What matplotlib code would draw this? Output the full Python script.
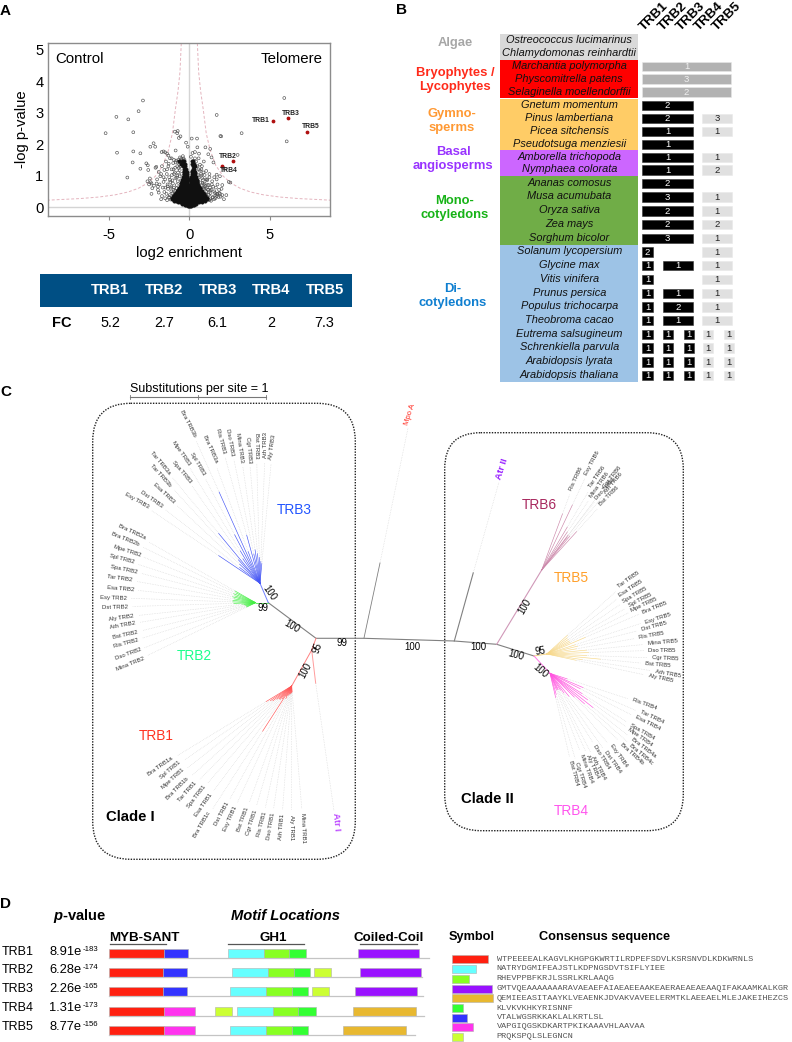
import numpy as np
import matplotlib
matplotlib.use("Agg")
import matplotlib.pyplot as plt
from matplotlib.patches import Rectangle, FancyBboxPatch

plt.rcParams['font.family'] = ['Liberation Sans', 'DejaVu Sans']
plt.rcParams['mathtext.fontset'] = 'custom'
plt.rcParams['mathtext.bfit'] = 'Liberation Sans:italic:bold'

# ---------------- Panel A data ----------------
HIT_NAMES = ['TRB1', 'TRB2', 'TRB3', 'TRB4', 'TRB5']
HIT_X = [5.2, 2.7, 6.1, 2.0, 7.3]
HIT_Y = [2.73, 1.45, 2.82, 1.32, 2.38]
FC_VALUES = ['5.2', '2.7', '6.1', '2', '7.3']
CURVE_X = [0.50, 0.58, 0.70, 0.87, 1.05, 1.29, 1.65, 2.11, 2.6, 3.15, 3.8, 4.6, 5.6, 6.8, 8.0, 8.74]
CURVE_Y = [5.21, 4.3, 3.7, 3.09, 2.35, 1.82, 1.32, 0.98, 0.76, 0.60, 0.48, 0.39, 0.32, 0.27, 0.24, 0.22]
OUT_X = [-5.2, -4.49, -4.53, -3.79, -3.85, -3.15, -2.88, -3.48, -3.48, -3.04, -3.52, -3.04, -2.67, -2.58, -2.42,
         -2.45, -2.22, -2.35, -2.12, -2.03, -2.4, -1.95, -1.6, -1.72, -1.5, -1.38, -1.3, -1.9, -1.75, -2.6, -2.35, -2.3,
         -2.05, -2.55, -1.1, -0.95, -0.85, -0.75, -0.65, -0.9, -0.72, -0.55, 0.15, 0.48, 0.5, -0.2, 0.35, 0.58,
         5.9, 6.05, 1.7, 1.93, 1.98, 3.25, 1.0, 1.3, 1.38, 1.18, 1.5, 1.7, 1.9, 2.1, 2.2, 2.45, 2.55, 2.05, 3.0, 1.75, 1.85, 1.6,
         0.9, 0.75, 0.6, 0.2, 0.35, 0.1, -0.1, 0.78, 1.05, 1.55, 1.42, 1.2, 1.65, 1.9, 1.3, 1.75, 2.3, 0.95, 1.1, 1.25, 2.0, 1.7, 1.45]
OUT_Y = [2.35, 1.73, 2.87, 2.79, 0.94, 3.05, 3.39, 2.38, 1.77, 1.71, 1.42, 1.22, 1.39, 1.33, 1.92,
         0.91, 2.03, 0.42, 1.92, 0.75, 0.79, 0.65, 1.77, 1.75, 1.74, 1.7, 1.64, 0.46, 0.25, 0.82, 0.75, 0.6,
         1.28, 1.18, 1.55, 1.5, 1.8, 2.35, 2.2, 2.4, 2.42, 2.25, 2.18, 2.18, 1.9, 2.05, 1.75, 1.55,
         3.47, 2.09, 2.93, 2.26, 2.25, 2.35, 1.9, 1.85, 1.58, 1.68, 1.42, 1.03, 0.98, 1.25, 1.22, 0.8, 0.78, 0.7, 1.66, 0.72, 0.55, 0.45,
         1.45, 1.2, 1.7, 1.72, 1.55, 1.6, 1.92, 1.3, 1.15, 0.95, 0.82, 0.7, 0.62, 0.43, 0.52, 0.42, 0.38, 1.02, 0.88, 1.05, 0.58, 0.88, 0.32]
MID_X = [-2.5, -2.2, -2.0, -1.9, -1.8, -1.7, -1.65, -1.55, -1.5, -1.45, -1.4, -1.35, -1.3, -1.25, -1.2, -1.15, -1.1, -1.05, -1.0, -0.95,
         -2.1, -1.95, -1.85, -1.75, -1.6, -1.48, -1.38, -1.28, -1.18, -1.08, -0.98, -0.88, -0.82, -0.78, -0.7, -0.62, -0.58, -0.52, -0.45, -0.4,
         -1.7, -1.55, -1.42, -1.32, -1.22, -1.12, -1.02, -0.92, -0.86, -0.8, -0.74, -0.68, -0.6, -0.55, -0.5, -0.42, -0.36, -0.3, -1.6, -1.25,
         0.42, 0.5, 0.58, 0.66, 0.72, 0.8, 0.88, 0.95, 1.02, 1.1, 1.18, 1.25, 1.32, 1.4, 1.48, 1.55, 1.62, 1.72, 1.82, 2.05,
         0.45, 0.55, 0.62, 0.7, 0.78, 0.85, 0.92, 1.0, 1.08, 1.15, 1.22, 1.3, 1.38, 1.45, 1.55, 1.62, 1.72, 1.85, 1.95, 2.15,
         -1.5, -1.38, -1.26, -1.16, -1.05, -0.95, -0.88, -0.78, -0.72, -0.66, -0.6, -0.54, -0.48, -0.85, -0.75, -0.68, -0.58, -0.5, -0.44, -1.12, -0.98, -0.9, -0.7, -1.35, -1.2,
         0.62, 0.7, 0.76, 0.84, 0.9, 0.98, 1.06, 1.14, 0.52, 0.58, 0.66, 0.74, 0.82, 0.92, 1.02, 1.12, 1.25, 1.35, 1.18, 1.28]
MID_Y = [0.72, 0.68, 0.88, 1.12, 0.98, 1.3, 0.62, 1.18, 0.88, 1.45, 1.05, 0.72, 1.3, 0.95, 1.55, 0.62, 1.2, 0.85, 1.4, 1.05,
         1.25, 0.55, 0.72, 1.05, 0.95, 0.62, 1.2, 1.38, 0.8, 1.02, 0.55, 1.25, 1.48, 0.7, 1.1, 1.35, 1.58, 0.85, 1.5, 1.62,
         0.35, 0.48, 0.42, 0.58, 0.38, 0.5, 0.75, 0.42, 0.92, 0.6, 1.0, 0.5, 1.18, 0.72, 1.38, 1.42, 1.55, 1.5, 0.8, 0.32,
         1.45, 1.3, 1.2, 1.35, 1.05, 0.92, 1.1, 0.75, 0.6, 0.85, 0.55, 0.95, 0.45, 0.72, 0.65, 0.5, 0.38, 0.42, 0.32, 0.38,
         0.6, 0.82, 0.45, 0.35, 0.5, 0.3, 0.62, 0.42, 0.32, 0.55, 0.38, 0.25, 0.55, 0.3, 0.25, 0.28, 0.35, 0.45, 0.33, 0.25,
         0.28, 0.22, 0.3, 0.24, 0.44, 0.62, 0.52, 0.94, 0.82, 1.24, 0.98, 1.3, 1.06, 1.42, 1.3, 1.5, 1.44, 1.55, 1.32, 0.66, 1.2, 1.1, 1.44, 0.66, 0.86,
         0.68, 0.78, 0.62, 0.86, 0.72, 0.66, 0.48, 0.7, 1.02, 0.94, 1.16, 1.0, 0.76, 0.58, 0.88, 0.28, 0.22, 0.2, 0.4, 0.62]
DENSE_ROWS = {
    0.02: [-0.08, -0.02, 0.04, 0.09],
    0.06: [-0.26, -0.18, -0.1, -0.03, 0.05, 0.12, 0.2, 0.28],
    0.10: [-0.44, -0.34, -0.26, -0.17, -0.08, 0.02, 0.1, 0.2, 0.3, 0.42],
    0.15: [-0.72, -0.6, -0.46, -0.36, -0.27, -0.18, -0.07, 0.04, 0.15, 0.26, 0.37, 0.48, 0.62, 0.76],
    0.20: [-0.95, -0.8, -0.65, -0.5, -0.4, -0.27, -0.15, -0.04, 0.07, 0.2, 0.33, 0.46, 0.6, 0.78, 0.98],
    0.25: [-1.1, -0.95, -0.8, -0.65, -0.52, -0.38, -0.24, -0.1, 0.04, 0.18, 0.32, 0.46, 0.6, 0.78, 0.95, 1.1],
    0.30: [-1.1, -0.92, -0.74, -0.58, -0.44, -0.3, -0.16, -0.03, 0.12, 0.26, 0.4, 0.55, 0.72, 0.9, 1.1],
    0.35: [-1.02, -0.84, -0.68, -0.52, -0.38, -0.24, -0.1, 0.06, 0.2, 0.34, 0.48, 0.64, 0.82, 1.0],
    0.40: [-0.92, -0.74, -0.58, -0.42, -0.28, -0.14, 0.01, 0.15, 0.3, 0.44, 0.6, 0.76, 0.94],
    0.45: [-0.82, -0.64, -0.47, -0.33, -0.19, -0.05, 0.1, 0.24, 0.38, 0.54, 0.7, 0.86],
    0.50: [-0.74, -0.58, -0.44, -0.3, -0.16, -0.02, 0.13, 0.28, 0.44, 0.6, 0.78],
    0.55: [-0.68, -0.52, -0.38, -0.24, -0.1, 0.06, 0.22, 0.36, 0.5, 0.68],
    0.60: [-0.62, -0.48, -0.34, -0.2, -0.07, 0.07, 0.2, 0.34, 0.48, 0.64],
    0.65: [-0.58, -0.44, -0.3, -0.18, -0.06, 0.07, 0.2, 0.34, 0.48, 0.6],
    0.70: [-0.54, -0.4, -0.28, -0.16, -0.06, 0.07, 0.2, 0.34, 0.46, 0.56],
    0.75: [-0.5, -0.38, -0.26, -0.13, 0.1, 0.24, 0.38, 0.5],
    0.80: [-0.46, -0.34, -0.22, -0.12, 0.11, 0.25, 0.39, 0.48],
    0.85: [-0.44, -0.32, -0.2, -0.11, 0.11, 0.24, 0.36, 0.46],
    0.90: [-0.42, -0.3, -0.18, -0.11, 0.12, 0.26, 0.38, 0.44],
    0.95: [-0.4, -0.28, -0.17, 0.13, 0.27, 0.4],
    1.00: [-0.36, -0.26, -0.16, 0.14, 0.28, 0.38],
    1.05: [-0.36, -0.27, -0.17, 0.14, 0.26, 0.36],
    1.10: [-0.34, -0.25, -0.16, 0.16, 0.28, 0.36],
    1.16: [-0.32, -0.22, 0.18, 0.3],
    1.22: [-0.3, -0.2, 0.2, 0.3],
    1.30: [-0.38, -0.24, 0.24, 0.36],
    1.38: [-0.5, -0.36, -0.25, 0.18, 0.3],
    1.46: [-0.64, -0.46, -0.3, 0.15, 0.26],
}

# ---------------- Panel B data ----------------
GROUPS = ['Algae', 'Bryophytes /\nLycophytes', 'Gymno-\nsperms', 'Basal\nangiosperms', 'Mono-\ncotyledons', 'Di-\ncotyledons']
GROUP_COUNTS = [2, 3, 4, 2, 5, 10]
SPECIES = ['Ostreococcus lucimarinus', 'Chlamydomonas reinhardtii', 'Marchantia polymorpha', 'Physcomitrella patens',
           'Selaginella moellendorffii', 'Gnetum momentum', 'Pinus lambertiana', 'Picea sitchensis', 'Pseudotsuga menziesii',
           'Amborella trichopoda', 'Nymphaea colorata', 'Ananas comosus', 'Musa acumubata', 'Oryza sativa', 'Zea mays',
           'Sorghum bicolor', 'Solanum lycopersium', 'Glycine max', 'Vitis vinifera', 'Prunus persica', 'Populus trichocarpa',
           'Theobroma cacao', 'Eutrema salsugineum', 'Schrenkiella parvula', 'Arabidopsis lyrata', 'Arabidopsis thaliana']
COUNT_ALL = [None, None, 1, 3, 2] + [None] * 21
COUNT_TRB123 = [None] * 5 + [2, 2, 1, 1, 1, 1, 2, 3, 2, 2, 3] + [None] * 10
COUNT_TRB45 = [None] * 6 + [3, 1, None, 1, 2, None, 1, 1, 2, 1] + [None] * 10
COUNT_TRB1 = [None] * 16 + [2, 1, 1, 1, 1, 1, 1, 1, 1, 1]
COUNT_TRB23 = [None] * 17 + [1, None, 1, 2, 1, None, None, None, None]
COUNT_TRB45B = [None] * 16 + [1, 1, 1, 1, 1, 1, None, None, None, None]
COUNT_SINGLE = {'TRB2': [1, 1, 1, 1], 'TRB3': [1, 1, 1, 1], 'TRB4': [1, 1, 1, 1], 'TRB5': [1, 1, 1, 1]}

# ---------------- Panel C data ----------------
TRB3_NAMES = ['Bra TRB3b', 'Bra TRB3a', 'Ris TRB3', 'Dso TRB3', 'Mina TRB3', 'Cgr TRB3', 'Bst TRB3', 'Ath TRB3', 'Aly TRB3',
              'Spl TRB3', 'Mpe TRB3', 'Spa TRB3', 'Tar TRB3a', 'Tar TRB3b', 'Esa TRB3', 'Dst TRB3', 'Esy TRB3']
TRB3_LEN = [100, 34, 50, 30, 34, 30, 26, 22, 20, 55, 38, 30, 65, 32, 28, 26, 50]
TRB2_NAMES = ['Bra TRB2a', 'Bra TRB2b', 'Mpe TRB2', 'Spl TRB2', 'Spa TRB2', 'Tar TRB2', 'Esa TRB2', 'Esy TRB2', 'Dst TRB2',
              'Aly TRB2', 'Ath TRB2', 'Bst TRB2', 'Ris TRB2', 'Dso TRB2', 'Mina TRB2']
TRB2_LEN = [24, 22, 24, 22, 24, 22, 23, 23, 22, 14, 12, 11, 10, 10, 10]
TRB1_NAMES = ['Bra TRB1a', 'Spl TRB1', 'Mpe TRB1', 'Bra TRB1b', 'Tar TRB1', 'Spa TRB1', 'Esa TRB1', 'Bra TRB1c', 'Dst TRB1',
              'Esy TRB1', 'Bst TRB1', 'Cgr TRB1', 'Ris TRB1', 'Dso TRB1', 'Ath TRB1', 'Aly TRB1', 'Mina TRB1']
TRB1_LEN = [30, 26, 24, 20, 18, 18, 16, 54, 12, 14, 10, 9, 8, 8, 7, 7, 6]
TRB6_NAMES = ['Ris TRB6', 'Esy TRB6', 'Tar TRB6', 'Mina TRB6', 'Cgr TRB6', 'Ath TRB6', 'Dso TRB6', 'Bst TRB6']
TRB6_LEN = [60, 72, 50, 46, 44, 44, 42, 52]
TRB5_NAMES = ['Tar TRB5', 'Esa TRB5', 'Spa TRB5', 'Spl TRB5', 'Mpe TRB5', 'Bra TRB5', 'Esy TRB5', 'Dst TRB5', 'Ris TRB5',
              'Mina TRB5', 'Dso TRB5', 'Cgr TRB5', 'Bst TRB5', 'Ath TRB5', 'Aly TRB5']
TRB5_LEN = [28, 26, 26, 26, 26, 42, 30, 32, 30, 40, 42, 40, 54, 36, 30]
TRB4_NAMES = ['Ris TRB4', 'Tar TRB4', 'Esa TRB4', 'Spa TRB4', 'Mpe TRB4', 'Bra TRB4a', 'Bra TRB4c', 'Bra TRB4b', 'Esy TRB4',
              'Dst TRB4', 'Dso TRB4', 'Ath TRB4', 'Aly TRB4', 'Mina TRB4', 'Cgr TRB4', 'Bst TRB4']
TRB4_LEN = [18, 36, 34, 38, 46, 55, 46, 34, 30, 24, 20, 18, 18, 18, 22, 25]
BOOTSTRAP = ['100', '99', '100', '95', '100', '99', '100', '100', '100', '95', '100', '100']

# ---------------- Panel D data ----------------
PVAL_BASE = ['8.91e', '6.28e', '2.26e', '1.31e', '8.77e']
PVAL_EXP = ['-183', '-174', '-165', '-173', '-156']
MOTIF_ORDER = ['red', 'cyan', 'lime', 'purple', 'gold', 'green', 'blue', 'magenta', 'yellow']
CONSENSUS = ['WTPEEEEALKAGVLKHGPGKWRTILRDPEFSDVLKSRSNVDLKDKWRNLS',
             'NATRYDGMIFEAJSTLKDPNGSDVTSIFLYIEE',
             'RHEVPPBFKRJLSSRLKRLAAQG',
             'GMTVQEAAAAAAARAVAEAEFAIAEAEEAAKEAERAEAEAEAAQIFAKAAMKALKGR',
             'QEMIEEASITAAYKLVEAENKJDVAKVAVEELERMTKLAEEAELMLEJAKEIHEZCS',
             'KLVKVKHKYRISNNF',
             'VTALWGSRKKAKLALKRTLSL',
             'VAPGIQGSKDKARTPKIKAAAVHLAAVAA',
             'PRQKSPQLSLEGNCN']
MOTIF_WIDTH = [36, 23.7, 16.7, 40.3, 40.7, 11, 15, 21, 11]
MOTIFS_TRB1 = [('red', 109, 164.3), ('blue', 164.3, 188), ('cyan', 228.3, 264), ('lime', 264, 289.3), ('green', 289.3, 305.7), ('purple', 357.7, 419)]
MOTIFS_TRB2 = [('red', 109, 163.3), ('blue', 163.3, 186.7), ('cyan', 232.3, 268.3), ('lime', 268.3, 293.7), ('green', 293.7, 310), ('yellow', 314.3, 330.7), ('purple', 359.7, 421.3)]
MOTIFS_TRB3 = [('red', 109, 163.3), ('blue', 163.3, 186.7), ('cyan', 230.3, 266.3), ('lime', 266.3, 291.7), ('green', 291.7, 307.7), ('yellow', 312, 328.7), ('purple', 355.3, 417)]
MOTIFS_TRB4 = [('red', 109, 163.7), ('magenta', 163.7, 195.3), ('yellow', 215, 231.7), ('cyan', 237.3, 273.3), ('lime', 273.3, 298.3), ('green', 298.3, 315.7), ('gold', 353.3, 415.7)]
MOTIFS_TRB5 = [('red', 109, 163.7), ('magenta', 163.7, 195.3), ('cyan', 230.3, 266.3), ('lime', 266.3, 291.7), ('green', 291.7, 307.7), ('gold', 343.3, 405.7)]
MOTIF_ROWS = [MOTIFS_TRB1, MOTIFS_TRB2, MOTIFS_TRB3, MOTIFS_TRB4, MOTIFS_TRB5]

# ---------------- layout / styles ----------------
fig = plt.figure(figsize=(7.92, 10.42), dpi=100)
W, H = 792, 1042
ax = fig.add_axes([0, 0, 1, 1])
ax.set_xlim(0, W)
ax.set_ylim(H, 0)
ax.axis('off')


def T(x, y, s, size=9, **kw):
    kw.setdefault('ha', 'center')
    kw.setdefault('va', 'center')
    return ax.text(x, y, s, fontsize=size, **kw)


for letter, x, y in [('A', 5.5, 11), ('B', 401.5, 10), ('C', 5.5, 392), ('D', 5.5, 904)]:
    T(x, y, letter, 11, fontweight='bold')

# --- Panel A volcano
L, R, TOP, BOT = 48.3, 330, 43.3, 216.5
vax = fig.add_axes([L / W, 1 - BOT / H, (R - L) / W, (BOT - TOP) / H])
vax.set_xlim(-8.76, 8.74)
vax.set_ylim(-0.30, 5.21)
vax.patch.set_alpha(0)
for s in vax.spines.values():
    s.set_color('#8c8c8c')
    s.set_linewidth(1.0)
vax.axhline(0, color='#d4d4d4', lw=1, zorder=1)
vax.axvline(0, color='#d4d4d4', lw=1, zorder=1)
vax.plot(CURVE_X, CURVE_Y, color='#e4b4be', lw=0.7, ls=(0, (3, 2)), zorder=1)
vax.plot(-np.array(CURVE_X), CURVE_Y, color='#e4b4be', lw=0.7, ls=(0, (3, 2)), zorder=1)
dx = [x for y, xs in DENSE_ROWS.items() for x in xs]
dy = [y for y, xs in DENSE_ROWS.items() for x in xs]
ptkw = dict(s=4.2, facecolors='none', edgecolors='#505050', linewidths=0.45, zorder=2)
vax.scatter(OUT_X, OUT_Y, **ptkw)
vax.scatter(MID_X, MID_Y, **ptkw)
vax.scatter(dx, dy, s=5.5, facecolors='#101010', edgecolors='#101010', linewidths=0.5, zorder=2)
vax.scatter(HIT_X, HIT_Y, s=3, color='#b01010', zorder=3)
vax.set_xticks([-5, 0, 5])
vax.set_yticks([0, 1, 2, 3, 4, 5])
vax.set_xticklabels(['-5', '0', '5'])
vax.tick_params(axis='x', labelsize=10.6, length=3, width=0.8, color='#8c8c8c', pad=5)
vax.tick_params(axis='y', labelsize=10.6, length=0, pad=3.5)
vax.set_xlabel('log2 enrichment', fontsize=10.7, labelpad=3)
T(21.7, 129.3, '-log p-value', 10.7, rotation=90)
T(55.7, 59, 'Control', 10.8, ha='left')
T(322.7, 59, 'Telomere', 10.8, ha='right')
ax.set_zorder(vax.get_zorder() + 1)
ax.patch.set_alpha(0)
lab_off = {'TRB1': (260.5, 121), 'TRB2': (227.3, 156.7), 'TRB3': (291.3, 113.7), 'TRB4': (228.3, 170.7), 'TRB5': (311, 127)}
for name in HIT_NAMES:
    T(*lab_off[name], name, 4.9, fontweight='bold', color='#222222')

ax.add_patch(Rectangle((40, 274.3), 311.7, 32.7, color='#004f84', lw=0))
for name, x in zip(HIT_NAMES, [110.3, 164, 218, 271, 324.7]):
    T(x, 290, name, 10.6, color='white', fontweight='bold')
T(62, 323, 'FC', 10.5, fontweight='bold')
for v, x in zip(FC_VALUES, [110.7, 164, 217, 271, 324.3]):
    T(x, 323, v, 10.4)

# --- Panel B
row_h = [12.9] * 11 + [13.72] * 15
edges = [34.0]
for h in row_h:
    edges.append(edges[-1] + h)
edges = np.array(edges)
centers = (edges[:-1] + edges[1:]) / 2
band = ['#d9d9d9', '#ff0000', '#ffcc66', '#cc66ff', '#70ad47', '#9dc3e6']
gcol = ['#a6a6a6', '#ff2a1a', '#ff9933', '#9933ff', '#17b317', '#0f7fd0']
gxy = [(455, 42.7), (455, 80), (452, 121), (453, 159), (455, 208.3), (453, 296.3)]
i0 = 0
for g, n, c, tc, (gx, gy) in zip(GROUPS, GROUP_COUNTS, band, gcol, gxy):
    ax.add_patch(Rectangle((500.3, edges[i0]), 138, edges[i0 + n] - edges[i0], color=c, lw=0))
    T(gx, gy, g, 9.4, color=tc, fontweight='bold', linespacing=1.22)
    i0 += n
for s, y in zip(SPECIES, centers):
    T(569.3, y, s, 7.9, style='italic', color='#111111')
for name, x in zip(HIT_NAMES, [654.3, 672.7, 691, 709.3, 727.3]):
    T(x, 16.5, name, 9.6, rotation=45, rotation_mode='anchor', fontweight='bold')


def box(x0, x1, y, val, fc, tc):
    ax.add_patch(Rectangle((x0, y - 4.7), x1 - x0, 9.4, fc=fc, ec='#e8e8e8' if fc != 'black' else '#333333', lw=0.4))
    T((x0 + x1) / 2, y + 0.2, str(val), 6.8, color=tc)


for i, y in enumerate(centers):
    if COUNT_ALL[i]:
        box(642.3, 730.7, y, COUNT_ALL[i], '#b2b2b2', '#f0f0f0')
    if COUNT_TRB123[i]:
        box(642.3, 692.7, y + 0.7, COUNT_TRB123[i], 'black', 'white')
    if COUNT_TRB45[i]:
        box(702, 732.3, y + 0.7, COUNT_TRB45[i], '#e0e0e0', '#222222')
    if COUNT_TRB1[i]:
        box(642.3, 652.7, y + 0.7, COUNT_TRB1[i], 'black', 'white')
    if COUNT_TRB23[i]:
        box(663, 693.3, y + 0.7, COUNT_TRB23[i], 'black', 'white')
    if COUNT_TRB45B[i]:
        box(702, 732.3, y + 0.7, COUNT_TRB45B[i], '#e0e0e0', '#222222')
for k, (name, x0, x1, fc, tc) in enumerate([('TRB2', 663, 673.3, 'black', 'white'), ('TRB3', 683.7, 694, 'black', 'white'),
                                             ('TRB4', 703.3, 713.3, '#e0e0e0', '#222222'), ('TRB5', 723.7, 733.7, '#e0e0e0', '#222222')]):
    for j, v in enumerate(COUNT_SINGLE[name]):
        box(x0, x1, centers[22 + j] + 0.7, v, fc, tc)

# --- Panel C
for (x0, y0, x1, y1, r) in [(92.7, 403.3, 355.3, 859.3, 38), (444.7, 432.7, 683.3, 830.7, 36)]:
    ax.add_patch(FancyBboxPatch((x0, y0), x1 - x0, y1 - y0, boxstyle=f'round,pad=0,rounding_size={r}',
                                fc='none', ec='#222222', lw=1.0, ls=(0, (1, 1))))
ax.plot([130, 265.7], [397.3, 397.3], color='#777777', lw=0.8)
for x in [130, 198, 265.7]:
    ax.plot([x, x], [395, 399], color='#777777', lw=0.6)
T(198.8, 389, 'Substitutions per site = 1', 9)
T(130.7, 816.7, 'Clade I', 10.7, fontweight='bold')
T(487.7, 799.3, 'Clade II', 10.7, fontweight='bold')

BACKBONE = '#808080'
DOT = dict(color='#d2d2d2', lw=0.45, ls=':')
ax.plot([268.3, 316, 364, 454.3, 496.7, 534], [602.7, 638.3, 638.3, 641, 644.3, 656], color=BACKBONE, lw=0.8)
ax.plot([364, 380], [638, 563], color=BACKBONE, lw=0.6)
ax.plot([380, 408], [563, 428], **DOT)
ax.plot([454.3, 473.3], [641, 572.7], color=BACKBONE, lw=0.8)
ax.plot([473.3, 499], [572.7, 482], **DOT)
T(409.7, 414.5, 'Mpo A', 5.6, rotation=72, color='#ff2a20', rotation_mode='anchor')
T(501.7, 469.3, 'Atr II', 6.8, rotation=72, color='#9922ff', fontweight='bold', rotation_mode='anchor')
T(336.7, 821.7, 'Atr I', 6.4, rotation=-85, color='#bb44ff', fontweight='bold', rotation_mode='anchor')
ax.plot([316, 311.7], [638.3, 650], color='#ff8080', lw=0.7)
ax.plot([311.7, 291.7], [650, 686], color='#ff8080', lw=0.7)
ax.plot([311.7, 315.7], [650, 683.3], color='#ff9c9c', lw=0.7)
ax.plot([315.7, 334], [683.3, 811], **DOT)
ax.plot([268.3, 255.7], [602.7, 602.7], color='#66ee66', lw=0.7)
ax.plot([268.3, 260], [602.7, 583.3], color='#7080ff', lw=0.7)
ax.plot([496.7, 541.7], [644.3, 570], color='#d098b8', lw=0.8)
ax.plot([534, 546.7], [656, 654], color='#f4d488', lw=0.7)
ax.plot([534, 550], [656, 673.3], color='#ff77e6', lw=0.7)


def zc(ox, oy, pts):
    return [(ox + a / 3, oy + b / 3, r) for a, b, r in pts]


TRB3_POS = zc(80, 380, [(325, 130, -63), (390, 208, -66), (422, 183, -75), (451, 188, -80), (480, 203, -82), (506, 209, -85),
                        (529, 198, -90), (556, 195, 90), (578, 200, 82), (352, 250, -60), (303, 220, -55), (306, 275, -50),
                        (240, 248, -50), (243, 287, -48), (252, 340, -43), (215, 357, -35), (170, 362, -30)])
TRB2_POS = zc(80, 380, [(155, 457, -25), (137, 476, -22), (143, 512, -18), (125, 537, -15), (132, 567, -12), (118, 595, -8),
                        (123, 626, -5), (101, 653, -2), (105, 681, 1), (123, 712, 8), (127, 736, 10)]) + \
    zc(80, 620, [(137, 44, 12), (137, 70, 15), (145, 103, 20), (150, 132, 22)])
TRB1_POS = zc(80, 620, [(241, 438, 35), (270, 450, 40), (280, 477, 42), (293, 505, 45), (323, 515, 48), (348, 530, 52),
                        (370, 554, 55), (367, 615, 60), (425, 582, 62), (450, 595, 66), (490, 597, 70), (515, 607, 72),
                        (545, 614, 75), (573, 618, 80), (604, 620, 85), (635, 624, -90), (670, 624, -88)])
TRB6_POS = zc(430, 420, [(437, 175, 65), (487, 128, 62), (502, 170, 55), (507, 195, 55), (545, 172, 52), (550, 190, 50), (525, 205, 48), (537, 228, 45)])
TRB5_POS = zc(430, 420, [(596, 480, 35), (602, 505, 33), (613, 525, 30), (630, 540, 27), (642, 555, 25), (675, 562, 22),
                         (683, 594, 18), (672, 620, 15), (664, 647, 10)]) + \
    zc(430, 640, [(697, 8, 5), (695, 30, 0), (705, 55, -3), (683, 74, -5), (713, 100, -10), (693, 115, -12)])
TRB4_POS = zc(430, 640, [(645, 193, -20), (665, 232, -25), (652, 249, -27), (635, 274, -30), (630, 290, -35), (640, 323, -37),
                         (635, 343, -40), (605, 340, -42), (565, 348, -55), (548, 366, -55), (516, 352, -58), (505, 382, -62),
                         (488, 380, -65), (470, 385, -70), (450, 405, -72), (430, 400, -75)])


def fan(root, names, pos, lens, color):
    for name, (x, y, r), ln in zip(names, pos, lens):
        d = np.array([x - root[0], y - root[1]], float)
        dist = np.hypot(*d)
        d /= dist
        tip = np.array(root) + d * ln
        end = np.array(root) + d * max(dist - 5.5 * len(name) / 2 * 0.75 - 1, ln)
        ax.plot([root[0], tip[0]], [root[1], tip[1]], color=color, lw=0.45, solid_capstyle='round')
        ax.plot([tip[0], end[0]], [tip[1], end[1]], **DOT)
        T(x, y, name, 4.3, rotation=r, rotation_mode='anchor', color='#333333')


fan((260, 583.3), TRB3_NAMES, TRB3_POS, TRB3_LEN, '#4455f5')
fan((255.7, 602.7), TRB2_NAMES, TRB2_POS, TRB2_LEN, '#44ee44')
fan((291.7, 686), TRB1_NAMES, TRB1_POS, TRB1_LEN, '#ff5555')
fan((541.7, 570), TRB6_NAMES, TRB6_POS, TRB6_LEN, '#cc88aa')
fan((546.7, 654), TRB5_NAMES, TRB5_POS, TRB5_LEN, '#f7d88a')
fan((550, 673.3), TRB4_NAMES, TRB4_POS, TRB4_LEN, '#ff55e0')

boot_pos = [(269, 592.7, -55), (263.3, 608.3, 0), (291.7, 626.7, -30), (317.7, 648.3, 70), (305.7, 670, 62), (341.7, 643.3, 0),
            (412, 647.5, 0), (478.3, 647.3, 0), (516, 655, -15), (540.7, 650.7, 10), (540, 670.7, -40), (525, 606.7, 60)]
for b, (x, y, r) in zip(BOOTSTRAP, boot_pos):
    T(x, y, b, 6.9, rotation=r, rotation_mode='anchor')

for s, x, y, c in [('TRB3', 294, 510, '#2255ff'), ('TRB2', 194.3, 656, '#1aff8c'), ('TRB1', 156.3, 736, '#ff3322'),
                   ('TRB6', 539.3, 505, '#a8285e'), ('TRB5', 571.7, 578.3, '#ff9f29'), ('TRB4', 571.7, 811, '#ff55ee')]:
    T(x, y, s, 9.9, color=c)

# --- Panel D
MOTIF_COLOR = dict(red='#ff2010', blue='#3333ff', cyan='#66ffff', lime='#88ff22', green='#33ff33',
                   purple='#9911ff', gold='#e8b830', magenta='#ff33ee', yellow='#ccff33')
T(53.3, 916, r'$\mathbfit{p}$-value', 10.6, ha='left', fontweight='bold')
T(285.7, 916, 'Motif Locations', 10.6, fontweight='bold', style='italic')
for s, x, x0, x1 in [('MYB-SANT', 144, 110.3, 165.7), ('GH1', 273.3, 228.3, 304.3), ('Coiled-Coil', 388.3, 360, 416.7)]:
    T(x, 937.7, s, 9.6, fontweight='bold')
    ax.plot([x0, x1], [944.3, 944.3], color='#555555', lw=0.9)
row_top = [949.3, 968.3, 987.3, 1006.7, 1025.7]
row_end = [428.7, 421.7, 423, 424.3, 415]
row_txt = [951.7, 970, 989, 1007.7, 1026.7]
for name, motifs, y, xe, ty, pb, pe in zip(HIT_NAMES, MOTIF_ROWS, row_top, row_end, row_txt, PVAL_BASE, PVAL_EXP):
    T(2, ty, name, 9, ha='left')
    T(49.3, ty, pb, 9.3, ha='left')
    T(82.5, ty - 2.5, pe, 5.6, ha='left')
    ax.plot([109, xe], [y + 8.9, y + 8.9], color='#c4c4c4', lw=0.9)
    for m, x0, x1 in motifs:
        ax.add_patch(Rectangle((x0, y), x1 - x0, 8.8, fc=MOTIF_COLOR[m], ec='#b0b0b0', lw=0.4))
T(472, 937.3, 'Symbol', 9.2, fontweight='bold')
T(605, 937.3, 'Consensus sequence', 9.2, fontweight='bold')
leg_y = [959.3, 969, 979, 989, 998.3, 1008, 1017.7, 1027, 1036.7]
for m, w, seq, y in zip(MOTIF_ORDER, MOTIF_WIDTH, CONSENSUS, leg_y):
    ax.add_patch(Rectangle((452, y - 4), w, 8, fc=MOTIF_COLOR[m], ec='#b0b0b0', lw=0.4))
    T(496.7, y, seq, 6.1, ha='left', family=['Liberation Mono'], color='#555555')

fig.savefig('out.png', dpi=100)
